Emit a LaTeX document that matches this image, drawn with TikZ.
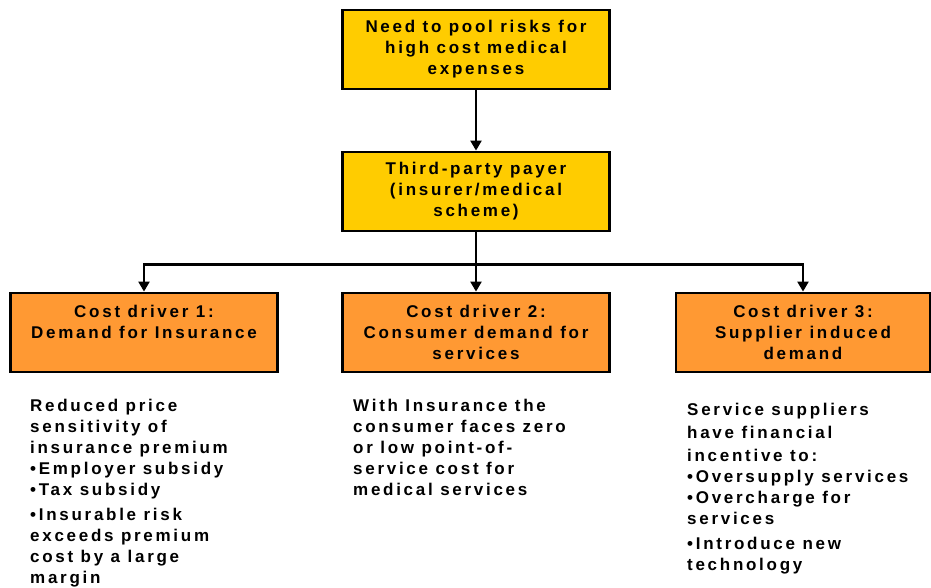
\documentclass[tikz,border=0pt]{standalone}
\usepackage{fontspec}
\setmainfont{Liberation Sans}[LetterSpace=16]
\usetikzlibrary{arrows.meta}

\definecolor{boxyellow}{HTML}{FFCC00}
\definecolor{boxorange}{HTML}{FF9933}

\tikzset{
  txt/.style={font=\bfseries\fontsize{17}{21}\selectfont},
  flowbox/.style={txt, draw=black, line width=2.8pt, fill=boxyellow,
    minimum width=267pt, minimum height=79pt, align=center, inner sep=2pt},
  driverbox/.style={flowbox, fill=boxorange},
  notes/.style={txt, anchor=north west, inner sep=0pt, align=left},
  link/.style={line width=2.2pt, -{Triangle[width=11pt,length=10pt]}}
}

\begin{document}
\begin{tikzpicture}[x=1pt,y=-1pt]
  \def\boxrow{332.5} % row of the cost drivers
  \useasboundingbox (0,0) rectangle (931,588);

  \node[flowbox] (pool) at (476,49.5) {Need to pool risks for\\high cost medical\\expenses};
  \node[flowbox] (payer) at (476,191.5) {Third-party payer\\(insurer/medical\\scheme)};

  \node[driverbox] (drv1) at (144,\boxrow) {Cost driver 1:\\Demand for Insurance\\~};
  \node[driverbox] (drv2) at (476,\boxrow) {Cost driver 2:\\Consumer demand for\\services};
  \node[driverbox, minimum width=254pt] (drv3) at (803,\boxrow) {Cost driver 3:\\Supplier induced\\demand};

  \draw[link] (pool) -- (payer);
  \draw[link] (payer) -- (drv2);
  \foreach \drv in {drv1,drv3} {
    \draw[link] (payer.south) -- ++(0,32) -| (\drv.north);
  }

  %\node[notes] at (30,398) {...};
  \node[notes] (note1) at (30,399) {Reduced price\\sensitivity of\\insurance premium\\%
    \textbullet Employer subsidy\\\textbullet Tax subsidy\\[4pt]%
    \textbullet Insurable risk\\exceeds premium\\cost by a large\\margin};
  \node[notes] (note2) at (353,399) {With Insurance the\\consumer faces zero\\or low point-of-\\%
    service cost for\\medical services};
  \node[notes] (note3) at (687,403) {Service suppliers\\[2pt]have financial\\[2pt]incentive to:\\%
    \textbullet Oversupply services\\\textbullet Overcharge for\\services\\[4pt]%
    \textbullet Introduce new\\technology};
\end{tikzpicture}
\end{document}
